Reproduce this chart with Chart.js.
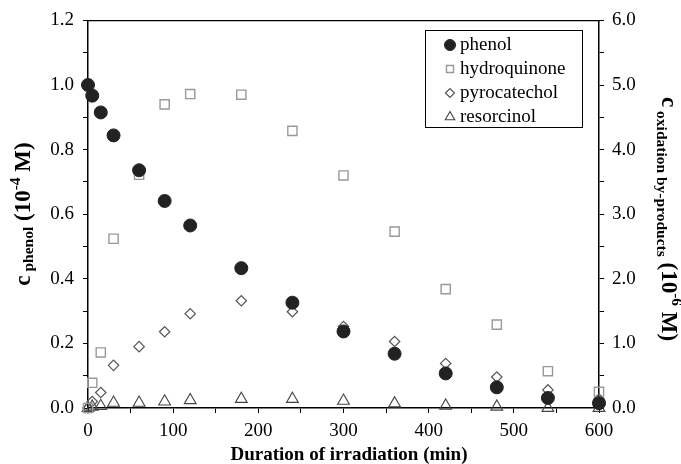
<!DOCTYPE html>
<html lang="en">
<head>
    <meta charset="UTF-8">
    <title>Phenol photo-oxidation</title>
    <style>
        * { margin: 0; padding: 0; box-sizing: border-box; }
        body { background: #fff; width: 681px; height: 464px; overflow: hidden; }
        canvas { display: block; }
    </style>
</head>
<body>
    <canvas id="chart" width="681" height="464"></canvas>

    <script src="https://cdn.jsdelivr.net/npm/chart.js@4"></script>
    <script>
        // irradiation time (min)
        const times = [0, 5, 15, 30, 60, 90, 120, 180, 240, 300, 360, 420, 480, 540, 600];
        // phenol, left axis (10^-4 M)
        const phenol = [1.00, 0.967, 0.915, 0.844, 0.736, 0.641, 0.565, 0.433, 0.326, 0.237, 0.168, 0.107, 0.064, 0.031, 0.015];
        // by-products, right axis (10^-6 M)
        const hydroquinone = [0.0, 0.39, 0.86, 2.62, 3.61, 4.70, 4.86, 4.85, 4.29, 3.60, 2.73, 1.84, 1.29, 0.57, 0.25];
        const pyrocatechol = [0.0, 0.10, 0.24, 0.66, 0.95, 1.18, 1.46, 1.66, 1.49, 1.26, 1.03, 0.69, 0.48, 0.28, 0.14];
        const resorcinol = [0.0, 0.02, 0.03, 0.08, 0.08, 0.10, 0.12, 0.14, 0.14, 0.11, 0.07, 0.035, 0.02, 0.0, 0.0];

        const xTitle = 'Duration of irradiation (min)';

        const FONT = "'Liberation Serif', 'Times New Roman', serif";

        function pts(values) {
            return values.map((v, i) => ({ x: times[i], y: v }));
        }

        // draws "c", subscript, "(10", superscript, "M)" as one line
        function drawRichTitle(ctx, parts) {
            let x = 0;
            parts.forEach(p => {
                ctx.font = 'bold ' + p.size + 'px ' + FONT;
                ctx.fillText(p.t, x, p.dy || 0);
                x += ctx.measureText(p.t).width;
            });
            return x;
        }
        function richWidth(ctx, parts) {
            let w = 0;
            parts.forEach(p => {
                ctx.font = 'bold ' + p.size + 'px ' + FONT;
                w += ctx.measureText(p.t).width;
            });
            return w;
        }

        const leftTitle = [
            { t: 'c', size: 23 },
            { t: ' phenol', size: 15.5, dy: 3 },
            { t: ' (10', size: 23 },
            { t: '-4', size: 15.5, dy: -10 },
            { t: ' M)', size: 23 }
        ];
        const rightTitle = [
            { t: 'c', size: 23 },
            { t: ' oxidation by-products', size: 15.5, dy: 5 },
            { t: ' (10', size: 23 },
            { t: '-6', size: 15.5, dy: -10 },
            { t: ' M)', size: 23 }
        ];

        const decorations = {
            id: 'decorations',
            afterDraw(chart) {
                const ctx = chart.ctx;
                ctx.save();
                ctx.fillStyle = '#000';
                ctx.textBaseline = 'alphabetic';
                ctx.textAlign = 'left';

                // x title
                ctx.font = 'bold 19px ' + FONT;
                ctx.textAlign = 'center';
                ctx.fillText(xTitle, 349, 460);
                ctx.textAlign = 'left';

                // left title, reading upwards
                let w = richWidth(ctx, leftTitle);
                ctx.save();
                ctx.translate(30, 214 + w / 2);
                ctx.rotate(-Math.PI / 2);
                drawRichTitle(ctx, leftTitle);
                ctx.restore();

                // right title, reading downwards
                ctx.save();
                ctx.translate(662, 97);
                ctx.rotate(Math.PI / 2);
                drawRichTitle(ctx, rightTitle);
                ctx.restore();

                // legend box
                ctx.lineWidth = 1;
                ctx.strokeStyle = '#000';
                ctx.strokeRect(425.5, 30.5, 157, 97);
                const rows = [45, 69, 93, 117];
                const legendRadius = [5.5, 5, 4.5, 5.5];
                chart.data.datasets.forEach((ds, i) => {
                    ctx.fillStyle = ds.backgroundColor;
                    ctx.strokeStyle = ds.borderColor;
                    ctx.lineWidth = ds.borderWidth;
                    Chart.helpers.drawPoint(ctx, {
                        pointStyle: ds.pointStyle,
                        radius: legendRadius[i],
                        borderWidth: ds.borderWidth,
                        rotation: 0
                    }, 450, rows[i]);
                    ctx.fillStyle = '#000';
                    ctx.font = '19px ' + FONT;
                    ctx.textBaseline = 'middle';
                    ctx.fillText(ds.label, 460, rows[i]);
                });
                ctx.restore();
            }
        };

        const tickFont = { family: FONT, size: 19 };

        new Chart(document.getElementById('chart'), {
            type: 'scatter',
            data: {
                datasets: [
                    {
                        label: 'phenol',
                        data: pts(phenol),
                        yAxisID: 'yLeft',
                        pointStyle: 'circle',
                        pointRadius: 6.5,
                        backgroundColor: '#222',
                        borderColor: '#222',
                        borderWidth: 1
                    },
                    {
                        label: 'hydroquinone',
                        data: pts(hydroquinone),
                        yAxisID: 'yRight',
                        pointStyle: 'rect',
                        pointRadius: 6.5,
                        backgroundColor: 'rgba(255,255,255,0)',
                        borderColor: '#999',
                        borderWidth: 1.4
                    },
                    {
                        label: 'pyrocatechol',
                        data: pts(pyrocatechol),
                        yAxisID: 'yRight',
                        pointStyle: 'rectRot',
                        pointRadius: 5.2,
                        backgroundColor: 'rgba(255,255,255,0)',
                        borderColor: '#555',
                        borderWidth: 1.2
                    },
                    {
                        label: 'resorcinol',
                        data: pts(resorcinol),
                        yAxisID: 'yRight',
                        pointStyle: 'triangle',
                        pointRadius: 6.8,
                        backgroundColor: 'rgba(255,255,255,0)',
                        borderColor: '#444',
                        borderWidth: 1.1
                    }
                ]
            },
            options: {
                responsive: false,
                animation: false,
                devicePixelRatio: 1,
                clip: false,
                layout: { padding: 0 },
                plugins: {
                    legend: { display: false },
                    tooltip: { enabled: false }
                },
                scales: {
                    x: {
                        type: 'linear',
                        position: 'bottom',
                        min: 0,
                        max: 600,
                        afterFit: s => { s.height = 56; },
                        ticks: {
                            stepSize: 50,
                            autoSkip: false,
                            maxRotation: 0,
                            padding: 7,
                            color: '#000',
                            font: tickFont,
                            callback: v => (v % 100 === 0 ? String(v) : '')
                        },
                        grid: { drawOnChartArea: false, tickLength: 5, color: '#000', lineWidth: 1 },
                        border: { color: '#000', width: 1.5 }
                    },
                    xTop: {
                        type: 'linear',
                        position: 'top',
                        min: 0,
                        max: 600,
                        afterFit: s => { s.height = 17; },
                        ticks: { display: false },
                        grid: { display: false },
                        border: { display: true, color: '#000', width: 1.2 }
                    },
                    yLeft: {
                        type: 'linear',
                        position: 'left',
                        min: 0,
                        max: 1.2,
                        afterFit: s => { s.width = 88; },
                        ticks: {
                            stepSize: 0.1,
                            autoSkip: false,
                            padding: 9,
                            color: '#000',
                            font: tickFont,
                            callback: v => (Math.round(v * 10) % 2 === 0 ? v.toFixed(1) : '')
                        },
                        grid: { drawOnChartArea: false, tickLength: 5, color: '#000', lineWidth: 1 },
                        border: { color: '#000', width: 1.5 }
                    },
                    yRight: {
                        type: 'linear',
                        position: 'right',
                        min: 0,
                        max: 6,
                        afterFit: s => { s.width = 82; },
                        ticks: {
                            stepSize: 0.5,
                            autoSkip: false,
                            padding: 8,
                            color: '#000',
                            font: tickFont,
                            callback: v => (Math.round(v * 2) % 2 === 0 ? v.toFixed(1) : '')
                        },
                        grid: { drawOnChartArea: false, tickLength: 5, color: '#000', lineWidth: 1 },
                        border: { color: '#000', width: 1.5 }
                    }
                }
            },
            plugins: [decorations]
        });
    </script>
</body>
</html>
